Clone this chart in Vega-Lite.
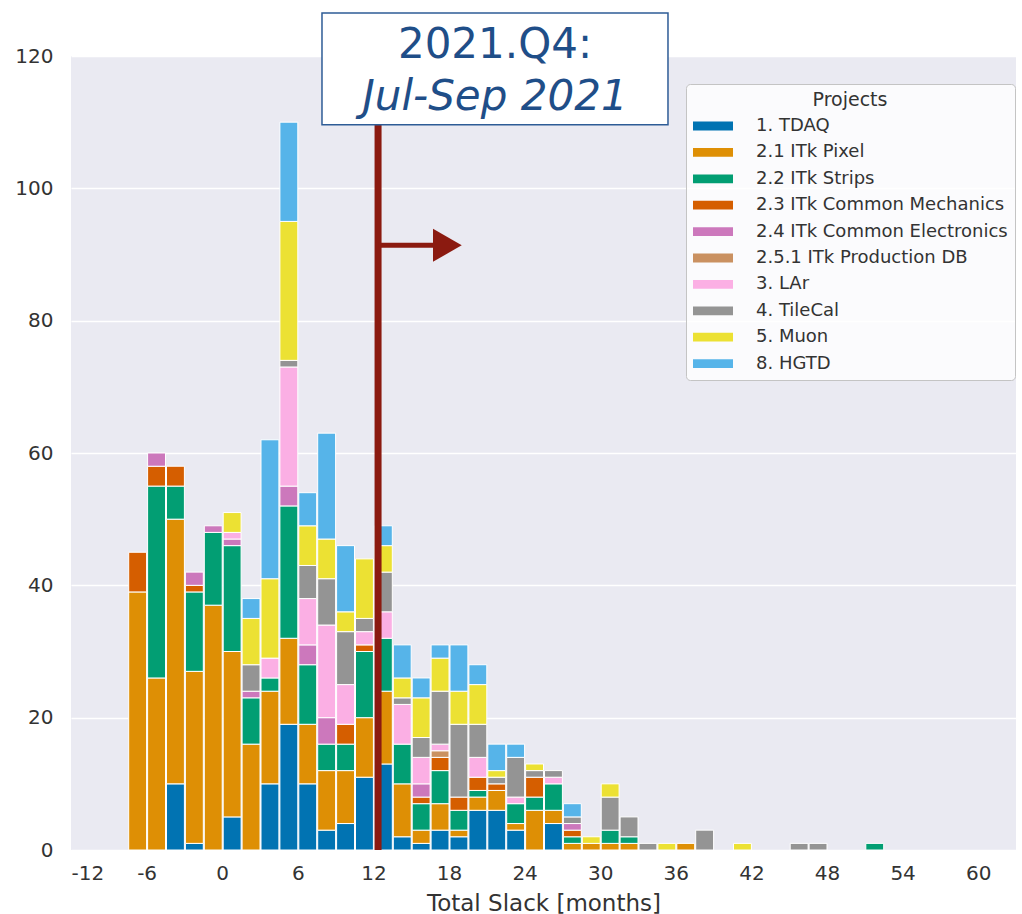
{
  "$schema": "https://vega.github.io/schema/vega-lite/v6.json",
  "width": 945,
  "height": 794,
  "autosize": {"type": "none"},
  "padding": {"left": 71, "top": 56, "right": 6, "bottom": 64},
  "background": "white",
  "config": {
    "font": "DejaVu Sans",
    "view": {"fill": "#EAEAF2", "stroke": null},
    "axis": {
      "domain": false,
      "ticks": false,
      "gridColor": "white",
      "gridWidth": 1.3,
      "gridOpacity": 1,
      "labelColor": "#333333",
      "labelFontSize": 20,
      "titleColor": "#333333",
      "titleFontWeight": "normal",
      "titleFontSize": 23
    },
    "axisX": {"labelPadding": 13, "titlePadding": 9},
    "axisY": {"labelPadding": 18}
  },
  "datasets": {
    "bars": [
      {"start": -7.5, "end": -6, "project": "2.1 ITk Pixel", "count": 39},
      {"start": -7.5, "end": -6, "project": "2.3 ITk Common Mechanics", "count": 6},
      {"start": -6, "end": -4.5, "project": "2.1 ITk Pixel", "count": 26},
      {"start": -6, "end": -4.5, "project": "2.2 ITk Strips", "count": 29},
      {"start": -6, "end": -4.5, "project": "2.3 ITk Common Mechanics", "count": 3},
      {"start": -6, "end": -4.5, "project": "2.4 ITk Common Electronics", "count": 2},
      {"start": -4.5, "end": -3, "project": "1. TDAQ", "count": 10},
      {"start": -4.5, "end": -3, "project": "2.1 ITk Pixel", "count": 40},
      {"start": -4.5, "end": -3, "project": "2.2 ITk Strips", "count": 5},
      {"start": -4.5, "end": -3, "project": "2.3 ITk Common Mechanics", "count": 3},
      {"start": -3, "end": -1.5, "project": "1. TDAQ", "count": 1},
      {"start": -3, "end": -1.5, "project": "2.1 ITk Pixel", "count": 26},
      {"start": -3, "end": -1.5, "project": "2.2 ITk Strips", "count": 12},
      {"start": -3, "end": -1.5, "project": "2.3 ITk Common Mechanics", "count": 1},
      {"start": -3, "end": -1.5, "project": "2.4 ITk Common Electronics", "count": 2},
      {"start": -1.5, "end": 0, "project": "2.1 ITk Pixel", "count": 37},
      {"start": -1.5, "end": 0, "project": "2.2 ITk Strips", "count": 11},
      {"start": -1.5, "end": 0, "project": "2.4 ITk Common Electronics", "count": 1},
      {"start": 0, "end": 1.5, "project": "1. TDAQ", "count": 5},
      {"start": 0, "end": 1.5, "project": "2.1 ITk Pixel", "count": 25},
      {"start": 0, "end": 1.5, "project": "2.2 ITk Strips", "count": 16},
      {"start": 0, "end": 1.5, "project": "2.4 ITk Common Electronics", "count": 1},
      {"start": 0, "end": 1.5, "project": "3. LAr", "count": 1},
      {"start": 0, "end": 1.5, "project": "5. Muon", "count": 3},
      {"start": 1.5, "end": 3, "project": "2.1 ITk Pixel", "count": 16},
      {"start": 1.5, "end": 3, "project": "2.2 ITk Strips", "count": 7},
      {"start": 1.5, "end": 3, "project": "2.4 ITk Common Electronics", "count": 1},
      {"start": 1.5, "end": 3, "project": "4. TileCal", "count": 4},
      {"start": 1.5, "end": 3, "project": "5. Muon", "count": 7},
      {"start": 1.5, "end": 3, "project": "8. HGTD", "count": 3},
      {"start": 3, "end": 4.5, "project": "1. TDAQ", "count": 10},
      {"start": 3, "end": 4.5, "project": "2.1 ITk Pixel", "count": 14},
      {"start": 3, "end": 4.5, "project": "2.2 ITk Strips", "count": 2},
      {"start": 3, "end": 4.5, "project": "3. LAr", "count": 3},
      {"start": 3, "end": 4.5, "project": "5. Muon", "count": 12},
      {"start": 3, "end": 4.5, "project": "8. HGTD", "count": 21},
      {"start": 4.5, "end": 6, "project": "1. TDAQ", "count": 19},
      {"start": 4.5, "end": 6, "project": "2.1 ITk Pixel", "count": 13},
      {"start": 4.5, "end": 6, "project": "2.2 ITk Strips", "count": 20},
      {"start": 4.5, "end": 6, "project": "2.4 ITk Common Electronics", "count": 3},
      {"start": 4.5, "end": 6, "project": "3. LAr", "count": 18},
      {"start": 4.5, "end": 6, "project": "4. TileCal", "count": 1},
      {"start": 4.5, "end": 6, "project": "5. Muon", "count": 21},
      {"start": 4.5, "end": 6, "project": "8. HGTD", "count": 15},
      {"start": 6, "end": 7.5, "project": "1. TDAQ", "count": 10},
      {"start": 6, "end": 7.5, "project": "2.1 ITk Pixel", "count": 9},
      {"start": 6, "end": 7.5, "project": "2.2 ITk Strips", "count": 9},
      {"start": 6, "end": 7.5, "project": "2.4 ITk Common Electronics", "count": 3},
      {"start": 6, "end": 7.5, "project": "3. LAr", "count": 7},
      {"start": 6, "end": 7.5, "project": "4. TileCal", "count": 5},
      {"start": 6, "end": 7.5, "project": "5. Muon", "count": 6},
      {"start": 6, "end": 7.5, "project": "8. HGTD", "count": 5},
      {"start": 7.5, "end": 9, "project": "1. TDAQ", "count": 3},
      {"start": 7.5, "end": 9, "project": "2.1 ITk Pixel", "count": 9},
      {"start": 7.5, "end": 9, "project": "2.2 ITk Strips", "count": 4},
      {"start": 7.5, "end": 9, "project": "2.4 ITk Common Electronics", "count": 4},
      {"start": 7.5, "end": 9, "project": "3. LAr", "count": 14},
      {"start": 7.5, "end": 9, "project": "4. TileCal", "count": 7},
      {"start": 7.5, "end": 9, "project": "5. Muon", "count": 6},
      {"start": 7.5, "end": 9, "project": "8. HGTD", "count": 16},
      {"start": 9, "end": 10.5, "project": "1. TDAQ", "count": 4},
      {"start": 9, "end": 10.5, "project": "2.1 ITk Pixel", "count": 8},
      {"start": 9, "end": 10.5, "project": "2.2 ITk Strips", "count": 4},
      {"start": 9, "end": 10.5, "project": "2.3 ITk Common Mechanics", "count": 3},
      {"start": 9, "end": 10.5, "project": "3. LAr", "count": 6},
      {"start": 9, "end": 10.5, "project": "4. TileCal", "count": 8},
      {"start": 9, "end": 10.5, "project": "5. Muon", "count": 3},
      {"start": 9, "end": 10.5, "project": "8. HGTD", "count": 10},
      {"start": 10.5, "end": 12, "project": "1. TDAQ", "count": 11},
      {"start": 10.5, "end": 12, "project": "2.1 ITk Pixel", "count": 9},
      {"start": 10.5, "end": 12, "project": "2.2 ITk Strips", "count": 10},
      {"start": 10.5, "end": 12, "project": "2.3 ITk Common Mechanics", "count": 1},
      {"start": 10.5, "end": 12, "project": "3. LAr", "count": 2},
      {"start": 10.5, "end": 12, "project": "4. TileCal", "count": 2},
      {"start": 10.5, "end": 12, "project": "5. Muon", "count": 9},
      {"start": 12, "end": 13.5, "project": "1. TDAQ", "count": 13},
      {"start": 12, "end": 13.5, "project": "2.1 ITk Pixel", "count": 11},
      {"start": 12, "end": 13.5, "project": "2.2 ITk Strips", "count": 8},
      {"start": 12, "end": 13.5, "project": "3. LAr", "count": 4},
      {"start": 12, "end": 13.5, "project": "4. TileCal", "count": 6},
      {"start": 12, "end": 13.5, "project": "5. Muon", "count": 4},
      {"start": 12, "end": 13.5, "project": "8. HGTD", "count": 3},
      {"start": 13.5, "end": 15, "project": "1. TDAQ", "count": 2},
      {"start": 13.5, "end": 15, "project": "2.1 ITk Pixel", "count": 8},
      {"start": 13.5, "end": 15, "project": "2.2 ITk Strips", "count": 6},
      {"start": 13.5, "end": 15, "project": "3. LAr", "count": 6},
      {"start": 13.5, "end": 15, "project": "4. TileCal", "count": 1},
      {"start": 13.5, "end": 15, "project": "5. Muon", "count": 3},
      {"start": 13.5, "end": 15, "project": "8. HGTD", "count": 5},
      {"start": 15, "end": 16.5, "project": "1. TDAQ", "count": 1},
      {"start": 15, "end": 16.5, "project": "2.1 ITk Pixel", "count": 2},
      {"start": 15, "end": 16.5, "project": "2.2 ITk Strips", "count": 4},
      {"start": 15, "end": 16.5, "project": "2.3 ITk Common Mechanics", "count": 1},
      {"start": 15, "end": 16.5, "project": "2.4 ITk Common Electronics", "count": 2},
      {"start": 15, "end": 16.5, "project": "3. LAr", "count": 4},
      {"start": 15, "end": 16.5, "project": "4. TileCal", "count": 3},
      {"start": 15, "end": 16.5, "project": "5. Muon", "count": 6},
      {"start": 15, "end": 16.5, "project": "8. HGTD", "count": 3},
      {"start": 16.5, "end": 18, "project": "1. TDAQ", "count": 3},
      {"start": 16.5, "end": 18, "project": "2.1 ITk Pixel", "count": 4},
      {"start": 16.5, "end": 18, "project": "2.2 ITk Strips", "count": 5},
      {"start": 16.5, "end": 18, "project": "2.3 ITk Common Mechanics", "count": 2},
      {"start": 16.5, "end": 18, "project": "2.5.1 ITk Production DB", "count": 1},
      {"start": 16.5, "end": 18, "project": "3. LAr", "count": 1},
      {"start": 16.5, "end": 18, "project": "4. TileCal", "count": 8},
      {"start": 16.5, "end": 18, "project": "5. Muon", "count": 5},
      {"start": 16.5, "end": 18, "project": "8. HGTD", "count": 2},
      {"start": 18, "end": 19.5, "project": "1. TDAQ", "count": 2},
      {"start": 18, "end": 19.5, "project": "2.1 ITk Pixel", "count": 1},
      {"start": 18, "end": 19.5, "project": "2.2 ITk Strips", "count": 3},
      {"start": 18, "end": 19.5, "project": "2.3 ITk Common Mechanics", "count": 2},
      {"start": 18, "end": 19.5, "project": "4. TileCal", "count": 11},
      {"start": 18, "end": 19.5, "project": "5. Muon", "count": 5},
      {"start": 18, "end": 19.5, "project": "8. HGTD", "count": 7},
      {"start": 19.5, "end": 21, "project": "1. TDAQ", "count": 6},
      {"start": 19.5, "end": 21, "project": "2.1 ITk Pixel", "count": 2},
      {"start": 19.5, "end": 21, "project": "2.2 ITk Strips", "count": 1},
      {"start": 19.5, "end": 21, "project": "2.3 ITk Common Mechanics", "count": 2},
      {"start": 19.5, "end": 21, "project": "3. LAr", "count": 3},
      {"start": 19.5, "end": 21, "project": "4. TileCal", "count": 5},
      {"start": 19.5, "end": 21, "project": "5. Muon", "count": 6},
      {"start": 19.5, "end": 21, "project": "8. HGTD", "count": 3},
      {"start": 21, "end": 22.5, "project": "1. TDAQ", "count": 6},
      {"start": 21, "end": 22.5, "project": "2.1 ITk Pixel", "count": 3},
      {"start": 21, "end": 22.5, "project": "2.3 ITk Common Mechanics", "count": 1},
      {"start": 21, "end": 22.5, "project": "4. TileCal", "count": 1},
      {"start": 21, "end": 22.5, "project": "5. Muon", "count": 1},
      {"start": 21, "end": 22.5, "project": "8. HGTD", "count": 4},
      {"start": 22.5, "end": 24, "project": "1. TDAQ", "count": 3},
      {"start": 22.5, "end": 24, "project": "2.1 ITk Pixel", "count": 1},
      {"start": 22.5, "end": 24, "project": "2.2 ITk Strips", "count": 3},
      {"start": 22.5, "end": 24, "project": "3. LAr", "count": 1},
      {"start": 22.5, "end": 24, "project": "4. TileCal", "count": 6},
      {"start": 22.5, "end": 24, "project": "8. HGTD", "count": 2},
      {"start": 24, "end": 25.5, "project": "2.1 ITk Pixel", "count": 6},
      {"start": 24, "end": 25.5, "project": "2.2 ITk Strips", "count": 2},
      {"start": 24, "end": 25.5, "project": "2.3 ITk Common Mechanics", "count": 3},
      {"start": 24, "end": 25.5, "project": "4. TileCal", "count": 1},
      {"start": 24, "end": 25.5, "project": "5. Muon", "count": 1},
      {"start": 25.5, "end": 27, "project": "1. TDAQ", "count": 4},
      {"start": 25.5, "end": 27, "project": "2.1 ITk Pixel", "count": 2},
      {"start": 25.5, "end": 27, "project": "2.2 ITk Strips", "count": 4},
      {"start": 25.5, "end": 27, "project": "3. LAr", "count": 1},
      {"start": 25.5, "end": 27, "project": "4. TileCal", "count": 1},
      {"start": 27, "end": 28.5, "project": "2.1 ITk Pixel", "count": 1},
      {"start": 27, "end": 28.5, "project": "2.2 ITk Strips", "count": 1},
      {"start": 27, "end": 28.5, "project": "2.3 ITk Common Mechanics", "count": 1},
      {"start": 27, "end": 28.5, "project": "2.4 ITk Common Electronics", "count": 1},
      {"start": 27, "end": 28.5, "project": "4. TileCal", "count": 1},
      {"start": 27, "end": 28.5, "project": "8. HGTD", "count": 2},
      {"start": 28.5, "end": 30, "project": "2.1 ITk Pixel", "count": 1},
      {"start": 28.5, "end": 30, "project": "5. Muon", "count": 1},
      {"start": 30, "end": 31.5, "project": "2.1 ITk Pixel", "count": 1},
      {"start": 30, "end": 31.5, "project": "2.2 ITk Strips", "count": 2},
      {"start": 30, "end": 31.5, "project": "4. TileCal", "count": 5},
      {"start": 30, "end": 31.5, "project": "5. Muon", "count": 2},
      {"start": 31.5, "end": 33, "project": "2.1 ITk Pixel", "count": 1},
      {"start": 31.5, "end": 33, "project": "2.2 ITk Strips", "count": 1},
      {"start": 31.5, "end": 33, "project": "4. TileCal", "count": 3},
      {"start": 33, "end": 34.5, "project": "4. TileCal", "count": 1},
      {"start": 34.5, "end": 36, "project": "5. Muon", "count": 1},
      {"start": 36, "end": 37.5, "project": "2.1 ITk Pixel", "count": 1},
      {"start": 37.5, "end": 39, "project": "4. TileCal", "count": 3},
      {"start": 40.5, "end": 42, "project": "5. Muon", "count": 1},
      {"start": 45, "end": 46.5, "project": "4. TileCal", "count": 1},
      {"start": 46.5, "end": 48, "project": "4. TileCal", "count": 1},
      {"start": 51, "end": 52.5, "project": "2.2 ITk Strips", "count": 1}
    ]
  },
  "layer": [
    {
      "data": {"name": "bars"},
      "mark": {"type": "bar", "stroke": "white", "strokeWidth": 1},
      "encoding": {
        "x": {
          "field": "start", "type": "quantitative", "bin": "binned",
          "title": "Total Slack [months]",
          "scale": {"domain": [-12, 63], "nice": false, "zero": false},
          "axis": {
            "values": [-12, -9, -6, -3, 0, 3, 6, 9, 12, 15, 18, 21, 24, 27, 30, 33, 36, 39, 42, 45, 48, 51, 54, 57, 60],
            "labelExpr": "datum.value % 6 === 0 ? '' + datum.value : ''"
          }
        },
        "x2": {"field": "end"},
        "y": {
          "field": "count", "type": "quantitative", "stack": "zero", "title": null,
          "scale": {"domain": [0, 120], "nice": false},
          "axis": {"values": [0, 20, 40, 60, 80, 100, 120]}
        },
        "order": {"field": "project", "type": "nominal", "sort": "ascending"},
        "color": {
          "field": "project", "type": "nominal",
          "scale": {
            "domain": ["1. TDAQ", "2.1 ITk Pixel", "2.2 ITk Strips", "2.3 ITk Common Mechanics", "2.4 ITk Common Electronics", "2.5.1 ITk Production DB", "3. LAr", "4. TileCal", "5. Muon", "8. HGTD"],
            "range": ["#0173B2", "#DE8F05", "#029E73", "#D55E00", "#CC78BC", "#CA9161", "#FBAFE4", "#949494", "#ECE133", "#56B4E9"]
          },
          "legend": {
            "title": "Projects",
            "orient": "none",
            "legendX": 615,
            "legendY": 28,
            "direction": "vertical",
            "symbolType": "M-1,-0.44H3V0.44H-1Z",
            "symbolSize": 400,
            "symbolStrokeWidth": 0,
            "symbolOpacity": 1,
            "labelOffset": 43,
            "labelFontSize": 18,
            "labelColor": "#333333",
            "labelLimit": 400,
            "titleFontSize": 19,
            "titleFontWeight": "normal",
            "titleColor": "#333333",
            "titleAnchor": "middle",
            "titlePadding": 6,
            "padding": 7,
            "rowPadding": 7.4,
            "fillColor": "rgba(255,255,255,0.8)",
            "strokeColor": "#c4c4c4",
            "cornerRadius": 4
          }
        }
      }
    },
    {
      "data": {"values": [{"month": 12.37, "low": 0, "high": 111}]},
      "mark": {"type": "rule", "color": "#8B1A10", "strokeWidth": 7},
      "encoding": {
        "x": {"field": "month", "type": "quantitative", "title": "Total Slack [months]", "scale": {"domain": [-12, 63], "nice": false, "zero": false}},
        "y": {"field": "low", "type": "quantitative", "title": null, "scale": {"domain": [0, 120], "nice": false}},
        "y2": {"field": "high"}
      }
    },
    {
      "data": {"values": [{"from": 12.37, "to": 17.2, "level": 91.4}]},
      "mark": {"type": "rule", "color": "#8B1A10", "strokeWidth": 5},
      "encoding": {
        "x": {"field": "from", "type": "quantitative", "title": "Total Slack [months]", "scale": {"domain": [-12, 63], "nice": false, "zero": false}},
        "x2": {"field": "to"},
        "y": {"field": "level", "type": "quantitative", "title": null, "scale": {"domain": [0, 120], "nice": false}}
      }
    },
    {
      "data": {"values": [{"month": 17.87, "level": 91.4}]},
      "mark": {"type": "point", "shape": "triangle-right", "filled": true, "color": "#8B1A10", "size": 1100, "opacity": 1},
      "encoding": {
        "x": {"field": "month", "type": "quantitative", "title": "Total Slack [months]", "scale": {"domain": [-12, 63], "nice": false, "zero": false}},
        "y": {"field": "level", "type": "quantitative", "title": null, "scale": {"domain": [0, 120], "nice": false}}
      }
    },
    {
      "data": {"values": [{"left": 7.92, "right": 35.38, "top": 126.5, "bottom": 109.6}]},
      "mark": {"type": "rect", "fill": "white", "stroke": "#2E5C96", "strokeWidth": 1.5},
      "encoding": {
        "x": {"field": "left", "type": "quantitative", "title": "Total Slack [months]", "scale": {"domain": [-12, 63], "nice": false, "zero": false}},
        "x2": {"field": "right"},
        "y": {"field": "top", "type": "quantitative", "title": null, "scale": {"domain": [0, 120], "nice": false}},
        "y2": {"field": "bottom"}
      }
    },
    {
      "data": {"values": [{"month": 21.65, "level": 121.6, "label": "2021.Q4:"}]},
      "mark": {"type": "text", "color": "#1F4E88", "fontSize": 42, "align": "center", "baseline": "middle"},
      "encoding": {
        "x": {"field": "month", "type": "quantitative", "title": "Total Slack [months]", "scale": {"domain": [-12, 63], "nice": false, "zero": false}},
        "y": {"field": "level", "type": "quantitative", "title": null, "scale": {"domain": [0, 120], "nice": false}},
        "text": {"field": "label"}
      }
    },
    {
      "data": {"values": [{"month": 21.65, "level": 113.8, "label": "Jul-Sep 2021"}]},
      "mark": {"type": "text", "color": "#1F4E88", "fontSize": 42, "fontStyle": "italic", "align": "center", "baseline": "middle"},
      "encoding": {
        "x": {"field": "month", "type": "quantitative", "title": "Total Slack [months]", "scale": {"domain": [-12, 63], "nice": false, "zero": false}},
        "y": {"field": "level", "type": "quantitative", "title": null, "scale": {"domain": [0, 120], "nice": false}},
        "text": {"field": "label"}
      }
    }
  ]
}
